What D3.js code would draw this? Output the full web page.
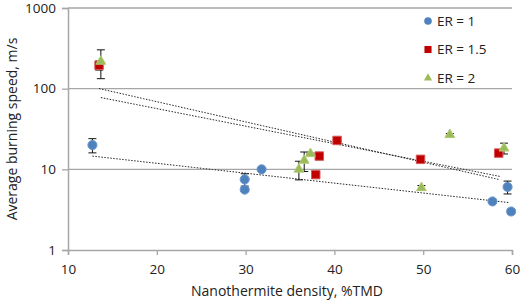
<!DOCTYPE html>
<html>
<head>
<meta charset="utf-8">
<script src="https://cdn.jsdelivr.net/npm/d3@7"></script>
<style>
  body { margin: 0; background: #fff; }
  text { font-family: "Open Sans", "Liberation Sans", sans-serif; fill: #222; }
</style>
</head>
<body>
<svg id="chart" width="523" height="304"></svg>
<script>
// values (density %TMD, speed m/s, +/- error)
var er1X   = [12.75, 29.9, 29.9, 31.8, 57.8, 59.5, 59.9];
var er1Y   = [20, 7.5, 5.6, 10, 4.0, 6.05, 3.0];
var er1Err = [4, 1.3, 0.3, 0, 0.2, 1.1, 0.2];

var er15X   = [13.5, 40.3, 38.3, 37.9, 49.7, 58.5];
var er15Y   = [195, 22.8, 14.6, 8.6, 13.3, 15.9];
var er15Err = [25, 0.6, 0, 0, 1.2, 1.4];

var er2X   = [13.7, 36.0, 36.6, 37.3, 53.0, 49.8, 59.1];
var er2Y   = [218, 10, 12.9, 15.6, 26.8, 5.9, 18.3];
var er2Err = [85, 2.6, 3.5, 0.3, 1.0, 0.4, 2.8];

var seriesNames = ["ER = 1", "ER = 1.5", "ER = 2"];
var xTicks = [10, 20, 30, 40, 50, 60];
var yTicks = [1, 10, 100, 1000];

var margin = {top: 8, right: 11, bottom: 54, left: 68},
    width = 523 - margin.left - margin.right,
    height = 304 - margin.top - margin.bottom;

var svg = d3.select("#chart")
var g = svg.append("g")
    .attr("transform", "translate(" + margin.left + "," + margin.top + ")")

var x = d3.scaleLinear().domain([10, 60]).range([0, width])
var y = d3.scaleLog().domain([1, 1000]).range([height, 0])

// gridlines
g.selectAll(".grid").data(yTicks.slice(1))
  .enter().append("line")
    .attr("x1", 0).attr("x2", width)
    .attr("y1", d => y(d)).attr("y2", d => y(d))
    .attr("stroke", "#a6a6a6").attr("stroke-width", 1.3)

// axes
var xAxis = d3.axisBottom(x).tickValues(xTicks).tickSize(5).tickPadding(9)
var gx = g.append("g").attr("transform", "translate(0," + height + ")").call(xAxis)
var yAxis = d3.axisLeft(y).tickValues(yTicks).tickFormat(d3.format("d")).tickSize(6).tickPadding(6)
var gy = g.append("g").call(yAxis)
;[gx, gy].forEach(a => {
  a.select(".domain").attr("stroke", "#a6a6a6").attr("stroke-width", 1.5)
  a.selectAll(".tick line").attr("stroke", "#a6a6a6").attr("stroke-width", 1.3)
  a.selectAll(".tick text").style("font-size", "13.5px").attr("fill", "#222")
})

// axis titles
svg.append("text").attr("x", margin.left + width / 2 - 3).attr("y", 296)
  .attr("text-anchor", "middle").style("font-size", "14px")
  .text("Nanothermite density, %TMD")
svg.append("text")
  .attr("transform", "translate(17," + (margin.top + height / 2) + ") rotate(-90)")
  .attr("text-anchor", "middle").style("font-size", "14px")
  .text("Average burning speed, m/s")

var series = [
  {name: seriesNames[0], xs: er1X, ys: er1Y, err: er1Err, shape: d3.symbolCircle, size: 65, fill: "#4f81bd", stroke: "#6b97cf"},
  {name: seriesNames[1], xs: er15X, ys: er15Y, err: er15Err, shape: d3.symbolSquare, size: 72, fill: "#c00000", stroke: "#d65a5a"},
  {name: seriesNames[2], xs: er2X, ys: er2Y, err: er2Err, shape: d3.symbolTriangle, size: 42, fill: "#9bbb59", stroke: "#b0cc78"}
]

// exponential trend lines (least squares on log y, like the spreadsheet)
series.forEach(s => {
  var lx = s.xs, ly = s.ys.map(Math.log)
  var mx = d3.mean(lx), my = d3.mean(ly)
  var b = d3.sum(lx, (v, i) => (v - mx) * (ly[i] - my)) / d3.sum(lx, v => (v - mx) * (v - mx))
  var a = my - b * mx
  var xs = d3.range(d3.min(lx), d3.max(lx) + 0.01, 0.5)
  g.append("path")
    .datum(xs)
    .attr("fill", "none").attr("stroke", "#222").attr("stroke-width", 1)
    .attr("stroke-dasharray", "1.5,1.5")
    .attr("d", d3.line().x(d => x(d)).y(d => y(Math.exp(a + b * d))))
})

// error bars + markers
series.forEach(s => {
  var pts = s.xs.map((v, i) => ({x: v, y: s.ys[i], e: s.err[i]}))
  var eb = g.selectAll(null).data(pts.filter(d => d.e > 0)).enter().append("g")
    .attr("stroke", "#111").attr("stroke-width", 1)
  eb.append("line").attr("x1", d => x(d.x)).attr("x2", d => x(d.x))
    .attr("y1", d => y(d.y + d.e)).attr("y2", d => y(d.y - d.e))
  eb.append("line").attr("x1", d => x(d.x) - 4).attr("x2", d => x(d.x) + 4)
    .attr("y1", d => y(d.y + d.e)).attr("y2", d => y(d.y + d.e))
  eb.append("line").attr("x1", d => x(d.x) - 4).attr("x2", d => x(d.x) + 4)
    .attr("y1", d => y(d.y - d.e)).attr("y2", d => y(d.y - d.e))
})
series.forEach(s => {
  var pts = s.xs.map((v, i) => ({x: v, y: s.ys[i]}))
  g.selectAll(null).data(pts).enter().append("path")
    .attr("d", d3.symbol().type(s.shape).size(s.size))
    .attr("transform", d => "translate(" + x(d.x) + "," + y(d.y) + ")")
    .attr("fill", s.fill).attr("stroke", s.stroke).attr("stroke-width", 1)
})

// legend
var leg = svg.append("g").attr("transform", "translate(428,21)")
series.forEach((s, i) => {
  var row = leg.append("g").attr("transform", "translate(0," + (i * 28.5) + ")")
  row.append("path").attr("d", d3.symbol().type(s.shape).size(s.size * 0.7))
    .attr("fill", s.fill)
  row.append("text").attr("x", 9).attr("dy", "0.35em").style("font-size", "13.5px").text(s.name)
})
</script>
</body>
</html>
